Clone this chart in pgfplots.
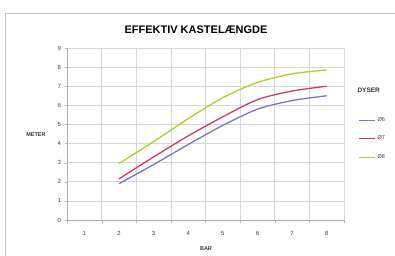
\documentclass[border=0pt]{standalone}
\usepackage{pgfplots}
\pgfplotsset{compat=1.18}
\usepackage{fontspec}
\setmainfont{Liberation Sans}
\definecolor{cA}{RGB}{120,120,190}
\definecolor{cB}{RGB}{200,60,110}
\definecolor{cC}{RGB}{170,210,40}
\definecolor{gridc}{RGB}{215,215,215}
\begin{document}
\begin{tikzpicture}[x=1pt,y=1pt]
\useasboundingbox (0,0) rectangle (395,255);
\draw[gray!45, line width=0.8pt] (5,-10) rectangle (420,242);
\begin{axis}[
  at={(67pt,35pt)}, anchor=south west,
  scale only axis, width=277pt, height=172pt,
  xmin=0.5, xmax=8.5, ymin=0, ymax=9,
  xtick={1,...,8}, ytick={0,...,9},
  minor xtick={0.5,1.5,...,8.5},
  major x tick style={draw=none},
  minor x tick style={gray!60},
  y tick style={gray!60},
  tick align=outside, major tick length=2.5pt, minor tick length=2.5pt,
  xmajorgrids=false, xminorgrids=true, ymajorgrids=true,
  grid style={gridc, line width=0.6pt},
  minor grid style={gridc, line width=0.6pt},
  axis x line*=bottom, axis y line*=left,
  axis line style={gray!60, line width=0.6pt},
  tick label style={font=\fontsize{6}{7}\selectfont, text=black!75},
  /pgf/number format/assume math mode=true,
  xticklabel style={yshift=-5pt},
  legend style={at={(1.04,0.62)}, anchor=north west, draw=none, fill=none,
    font=\fontsize{5.5}{6}\selectfont, row sep=9pt, text=black!75},
  legend cell align=left,
  legend image code/.code={\draw[#1] (0pt,0pt) -- (16pt,0pt);},
  every axis plot/.append style={line width=1.3pt, smooth, tension=0.45, no markers},
]
\addplot[cA] coordinates {(2,1.9) (3,2.9) (4,3.95) (5,4.95) (6,5.8) (7,6.25) (8,6.5)};
\addlegendentry{Ø6}
\addplot[cB] coordinates {(2,2.15) (3,3.3) (4,4.4) (5,5.4) (6,6.3) (7,6.75) (8,7.0)};
\addlegendentry{Ø7}
\addplot[cC] coordinates {(2,2.95) (3,4.1) (4,5.3) (5,6.4) (6,7.2) (7,7.65) (8,7.85)};
\addlegendentry{Ø8}
\end{axis}
\node[font=\bfseries\fontsize{11}{12}\selectfont] at (196,225) {EFFEKTIV KASTELÆNGDE};
\node[font=\bfseries\fontsize{5.5}{6}\selectfont, text=black!80] at (36,120) {METER};
\node[font=\bfseries\fontsize{6.5}{7}\selectfont, text=black!80, anchor=west] at (354,165) {DYSER};
\node[font=\bfseries\fontsize{5.5}{6}\selectfont, text=black!80, anchor=south] at (206,1) {BAR};
\end{tikzpicture}
\end{document}
